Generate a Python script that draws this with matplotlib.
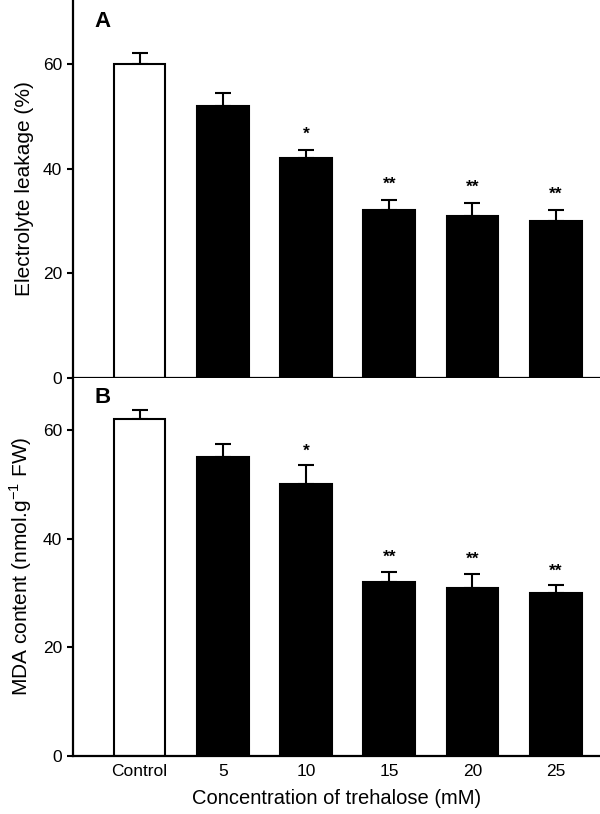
import matplotlib
matplotlib.use("Agg")
import matplotlib.pyplot as plt
import numpy as np

plt.rcParams['font.family'] = ['Liberation Sans', 'DejaVu Sans']

categories = ["Control", "5", "10", "15", "20", "25"]
leakage = [60, 52, 42, 32, 31, 30]
leakage_err = [2.2, 2.5, 1.5, 2.0, 2.5, 2.0]
leakage_sig = ["", "", "*", "**", "**", "**"]
mda = [62, 55, 50, 32, 31, 30]
mda_err = [1.8, 2.4, 3.5, 1.9, 2.5, 1.4]
mda_sig = ["", "", "*", "**", "**", "**"]
yticks = [0, 20, 40, 60]

fig = plt.figure(figsize=(6, 8.14), dpi=100)
axA = fig.add_axes([0.1217, 0.5362, 0.878, 0.4638])
axB = fig.add_axes([0.1217, 0.0713, 0.878, 0.4649])

x = np.arange(len(categories))
colors = ["white"] + ["black"] * (len(categories) - 1)

def draw(ax, vals, errs, sig, ylim, ylabel, letter, star_off):
    ax.bar(x, vals, width=0.62, color=colors, edgecolor="black", linewidth=1.5, zorder=2)
    ax.errorbar(x, vals, yerr=[np.zeros(len(vals)), errs], fmt="none", ecolor="black",
                elinewidth=1.5, capsize=5.5, capthick=1.5, zorder=1)
    for xi, v, e, s in zip(x, vals, errs, sig):
        if s:
            ax.annotate(s, (xi, v + e), xytext=(0, star_off), textcoords="offset points",
                        ha="center", va="bottom", fontsize=12.5, fontweight="bold")
    ax.set_xlim(-0.8, 5.53)
    ax.set_ylim(*ylim)
    ax.set_yticks(yticks)
    ax.tick_params(axis="y", direction="out", length=4, width=1.5, labelsize=12.5, pad=4)
    ax.tick_params(axis="x", length=0)
    for sp in ["top", "right"]:
        ax.spines[sp].set_visible(False)
    for sp in ["left", "bottom"]:
        ax.spines[sp].set_linewidth(1.6)
    ax.set_ylabel(ylabel, fontsize=15, labelpad=6)
    ax.text(0.04, 0.97 if letter == "A" else 0.975, letter, transform=ax.transAxes,
            fontsize=16, fontweight="bold", va="top", ha="left")

draw(axA, leakage, leakage_err, leakage_sig, (0, 72.3), "Electrolyte leakage (%)", "A", 6)
draw(axB, mda, mda_err, mda_sig, (0, 69.7), r"MDA content (nmol.g$^{\mathregular{-1}}$ FW)", "B", 5)

axA.set_xticks(x)
axA.set_xticklabels([])
axB.set_xticks(x)
axB.set_xticklabels(categories, fontsize=12.5)
axB.tick_params(axis="x", pad=6)
axB.set_xlabel("Concentration of trehalose (mM)", fontsize=14.5, labelpad=7)

fig.savefig("out.png", dpi=100)
